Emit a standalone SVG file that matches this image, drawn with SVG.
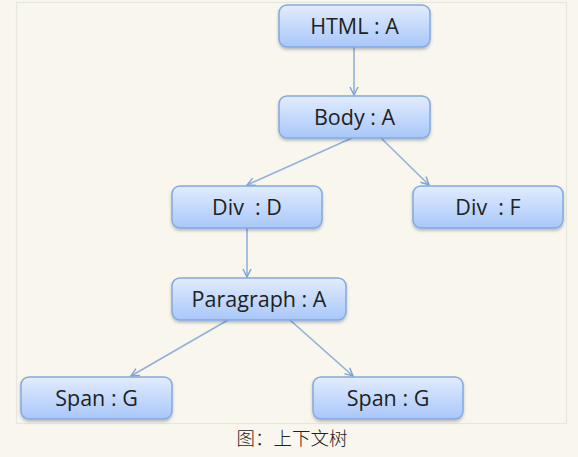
<svg xmlns="http://www.w3.org/2000/svg" width="578" height="457" viewBox="0 0 578 457">
<defs>
<linearGradient id="g" x1="0" y1="0" x2="0" y2="1">
<stop offset="0" stop-color="#e2ecfd"/>
<stop offset="1" stop-color="#a8c7fa"/>
</linearGradient>
<filter id="sh" x="-10%" y="-20%" width="120%" height="150%">
<feDropShadow dx="0" dy="2" stdDeviation="1.5" flood-color="#000" flood-opacity="0.25"/>
</filter>
<marker id="arr" viewBox="0 0 10 10" refX="9" refY="5" markerWidth="10" markerHeight="10" markerUnits="userSpaceOnUse" orient="auto">
<path d="M1,1 L9,5 L1,9" fill="none" stroke="#7aa3d6" stroke-width="1.4"/>
</marker>
</defs>
<style>
.box{fill:url(#g);stroke:#82a9e0;stroke-width:1.5;filter:url(#sh)}
.lbl{font-family:"Open Sans","Liberation Sans",sans-serif;font-size:21.5px;fill:#222;text-anchor:middle}
.conn{stroke:#8fb2dc;stroke-width:1.6;fill:none;marker-end:url(#arr)}
.cap{font-family:"Noto Sans CJK SC",sans-serif;font-size:18.5px;font-weight:300;fill:#222;text-anchor:middle}
</style>
<rect width="578" height="457" fill="#f9f7ed"/>
<rect x="16.5" y="2.5" width="550" height="421" fill="#f9f7ed" stroke="#e6e6e2" stroke-width="1.2"/>
<g id="connectors">
<line class="conn" x1="354" y1="47" x2="354" y2="95"/>
<line class="conn" x1="352" y1="138" x2="247" y2="185"/>
<line class="conn" x1="381" y1="138" x2="429" y2="185"/>
<line class="conn" x1="247" y1="228" x2="247" y2="277"/>
<line class="conn" x1="228" y1="320" x2="131" y2="376"/>
<line class="conn" x1="290" y1="320" x2="353" y2="376"/>
</g>
<g id="html"><rect class="box" x="279" y="5" width="151" height="42" rx="8"/><text class="lbl" x="354.5" y="33.5">HTML : A</text></g>
<g id="body"><rect class="box" x="279" y="96" width="151" height="42" rx="8"/><text class="lbl" x="354.5" y="124.5">Body : A</text></g>
<g id="divd"><rect class="box" x="172" y="186" width="150" height="42" rx="8"/><text class="lbl" x="247" y="214.5" xml:space="preserve">Div  : D</text></g>
<g id="divf"><rect class="box" x="413" y="186" width="150" height="42" rx="8"/><text class="lbl" x="488" y="214.5" xml:space="preserve">Div  : F</text></g>
<g id="paragraph"><rect class="box" x="172" y="278" width="174" height="42" rx="8"/><text class="lbl" x="259" y="306.5">Paragraph : A</text></g>
<g id="span1"><rect class="box" x="21" y="377" width="151" height="42" rx="8"/><text class="lbl" x="96.5" y="405.5">Span : G</text></g>
<g id="span2"><rect class="box" x="313" y="377" width="150" height="42" rx="8"/><text class="lbl" x="388" y="405.5">Span : G</text></g>
<text class="cap" x="292" y="445">图：上下文树</text>
</svg>
